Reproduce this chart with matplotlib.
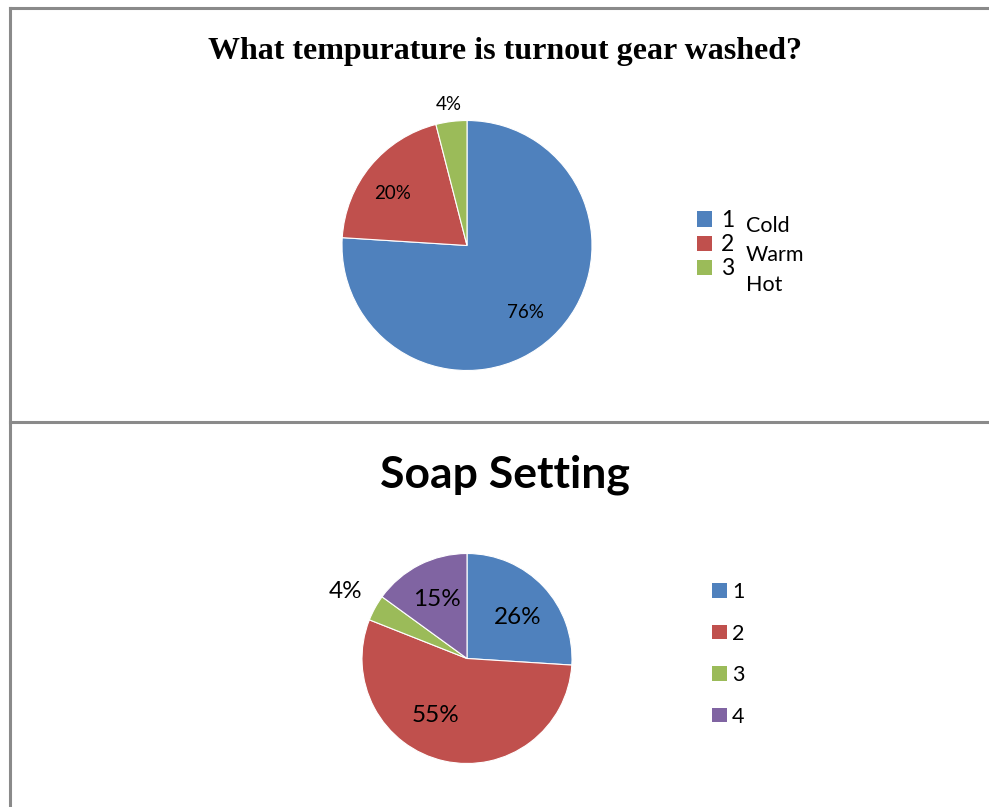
import matplotlib
matplotlib.use("Agg")
import matplotlib.pyplot as plt
from matplotlib.patches import Patch
from matplotlib.lines import Line2D
import numpy as np

# ---- data ----
temp_title = "What tempurature is turnout gear washed?"
temp_codes = ["1", "2", "3"]
temp_names = ["Cold", "Warm", "Hot"]
temp_values = [76, 20, 4]

soap_title = "Soap Setting"
soap_codes = ["1", "2", "3", "4"]
soap_values = [26, 55, 4, 15]

# ---- layout (label placement relative to wedge centre) ----
temp_label_dist = [0.71, 0.73, 1.14]
temp_label_dang = [-2.0, 4.6, 0.0]
soap_label_dist = [0.62, 0.62, 1.32, 0.63]
soap_label_dang = [-4.0, -16.0, 0.0, 0.0]

colors = ["#4F81BD", "#C0504D", "#9BBB59", "#8064A2"]

W, H = 989, 807
fig = plt.figure(figsize=(W / 100, H / 100), dpi=100)
SANS = ["Lato", "DejaVu Sans"]


def px_axes(cx, cy, r):
    return fig.add_axes([(cx - r) / W, 1 - (cy + r) / H, 2 * r / W, 2 * r / H])


def draw_pie(ax, values, dists, dangs, fs):
    wedges, _ = ax.pie(values, colors=colors[:len(values)], startangle=90,
                       counterclock=False, radius=1.0,
                       wedgeprops=dict(edgecolor="white", linewidth=0.8))
    for w, v, d, da in zip(wedges, values, dists, dangs):
        ang = np.deg2rad((w.theta1 + w.theta2) / 2 + da)
        ax.text(d * np.cos(ang), d * np.sin(ang), f"{v}%", ha="center",
                va="center", fontsize=fs, family=SANS, color="black")
    ax.set_xlim(-1, 1)
    ax.set_ylim(-1, 1)
    ax.set_aspect("equal")
    ax.axis("off")


# borders
gray = "#8a8a8a"
fig.add_artist(Line2D([10 / W, 10 / W], [0, 1 - 8 / H], color=gray, lw=2.2,
                      transform=fig.transFigure))
fig.add_artist(Line2D([10 / W, 1], [1 - 8 / H, 1 - 8 / H], color=gray, lw=2.2,
                      transform=fig.transFigure))
fig.add_artist(Line2D([10 / W, 1], [1 - 422 / H, 1 - 422 / H], color=gray,
                      lw=2.2, transform=fig.transFigure))

# ---- top chart ----
fig.text(505 / W, 1 - 51 / H, temp_title, ha="center", va="center",
         fontsize=23, fontweight="bold", family="Liberation Serif")
ax1 = px_axes(467, 245.5, 125)
draw_pie(ax1, temp_values, temp_label_dist, temp_label_dang, 13.5)

h1 = [Patch(facecolor=c, edgecolor="none") for c in colors[:3]]
fig.legend(h1, temp_codes, loc="upper left",
           bbox_to_anchor=(697 / W, 1 - 210 / H), frameon=False,
           prop=dict(family=SANS, size=16.5), handlelength=0.65,
           handleheight=0.65, handletextpad=0.4, labelspacing=0.14,
           borderpad=0, borderaxespad=0)
for i, name in enumerate(temp_names):
    fig.text(746 / W, 1 - (226 + 29.5 * i) / H, name, ha="left", va="center",
             fontsize=15.5, family=SANS)

# ---- bottom chart ----
fig.text(505 / W, 1 - 475 / H, soap_title, ha="center", va="center",
         fontsize=32, fontweight="bold", family=SANS)
ax2 = px_axes(467, 658.5, 105)
draw_pie(ax2, soap_values, soap_label_dist, soap_label_dang, 17.5)

h2 = [Patch(facecolor=c, edgecolor="none") for c in colors[:4]]
fig.legend(h2, soap_codes, loc="upper left",
           bbox_to_anchor=(712 / W, 1 - 582 / H), frameon=False,
           prop=dict(family=SANS, size=15.5), handlelength=0.68,
           handleheight=0.68, handletextpad=0.25, labelspacing=1.0,
           borderpad=0, borderaxespad=0)

fig.savefig("out.png", dpi=100)
